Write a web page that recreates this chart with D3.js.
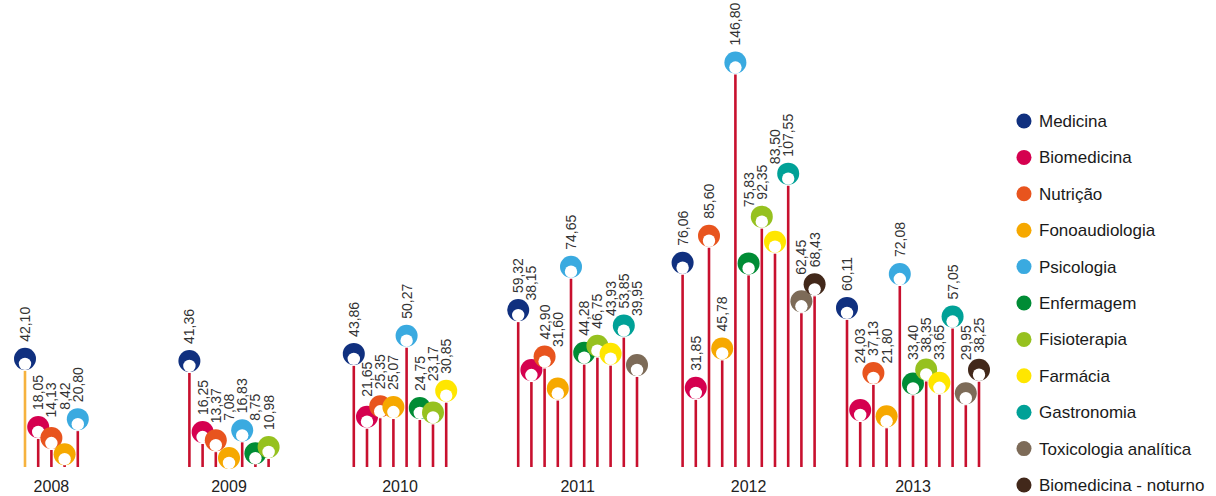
<!DOCTYPE html>
<html>
<head>
<meta charset="utf-8">
<script src="https://cdn.jsdelivr.net/npm/d3@7"></script>
<style>
  body { margin: 0; background: #fff; }
  svg { display: block; }
  text { font-family: "Liberation Sans", Arial, sans-serif; }
</style>
</head>
<body>
<svg></svg>
<script>
(function (d3) {
  'use strict';

  // cursos (ordem da legenda)
  var categories = ["Medicina", "Biomedicina", "Nutrição", "Fonoaudiologia", "Psicologia",
    "Enfermagem", "Fisioterapia", "Farmácia", "Gastronomia", "Toxicologia analítica",
    "Biomedicina - noturno"];
  var colors = ["#10307f", "#d5004f", "#e8541e", "#f6a800", "#3aaae0",
    "#008c35", "#96c11f", "#ffe600", "#00a197", "#7d6b58", "#42281a"];
  var years = ["2008", "2009", "2010", "2011", "2012", "2013"];

  // valores por ano, na ordem dos cursos
  var v2008 = [42.10, 18.05, 14.13, 8.42, 20.80];
  var v2009 = [41.36, 16.25, 13.37, 7.08, 16.83, 8.75, 10.98];
  var v2010 = [43.86, 21.65, 25.35, 25.07, 50.27, 24.75, 23.17, 30.85];
  var v2011 = [59.32, 38.15, 42.90, 31.60, 74.65, 44.28, 46.75, 43.93, 53.85, 39.95];
  var v2012 = [76.06, 31.85, 85.60, 45.78, 146.80, 75.83, 92.35, 83.50, 107.55, 62.45, 68.43];
  var v2013 = [60.11, 24.03, 37.13, 21.80, 72.08, 33.40, 38.35, 33.65, 57.05, 29.95, 38.25];
  var valuesByYear = [v2008, v2009, v2010, v2011, v2012, v2013];

  var width = 1216, height = 496,
    baseY = 467, r = 11, step = 13.2;

  var svg = d3.select("svg").attr("width", width).attr("height", height);

  var x = d3.scaleBand().domain(years).range([25, 25 + 6 * 164.4]).padding(0).align(0);
  var y = d3.scaleLinear().domain([0, 150]).range([baseY, baseY - 150 * 2.83]);
  var fmt = function (v) { return d3.format(".2f")(v).replace(".", ","); };

  years.forEach(function (yr, yi) {
    var vals = valuesByYear[yi];
    var g = svg.append("g");
    var items = vals.map(function (v, i) {
      return { v: v, i: i, x: x(yr) + i * step, cy: y(v) + r };
    });

    // hastes
    g.selectAll("line").data(items).enter().append("line")
      .attr("x1", function (d) { return d.x; })
      .attr("x2", function (d) { return d.x; })
      .attr("y1", function (d) { return Math.min(d.cy + r + 1, baseY - 3); })
      .attr("y2", baseY)
      .attr("stroke", function (d) { return (yr === "2008" && d.i === 0) ? "#f6b23e" : "#c8102e"; })
      .attr("stroke-width", 2.6);

    // marcadores
    var pin = g.selectAll("g.pin").data(items).enter().append("g")
      .attr("class", "pin")
      .attr("transform", function (d) { return "translate(" + d.x + "," + d.cy + ")"; });
    pin.append("circle").attr("r", r).attr("fill", function (d) { return colors[d.i]; });
    pin.append("circle").attr("r", 6.2).attr("cy", 5).attr("fill", "#fff");

    // rótulos girados
    var labels = g.selectAll("text.val").data(items).enter().append("text")
      .attr("class", "val")
      .attr("font-size", 14)
      .attr("fill", "#333")
      .text(function (d) { return fmt(d.v); });
    labels.each(function (d) { d.len = this.getComputedTextLength(); d.b = d.cy - r - 6; });

    // empurra o rótulo para cima quando bate num marcador vizinho
    for (var k = 0; k < 12; k++) {
      items.forEach(function (d) {
        [d.i - 1, d.i + 1].forEach(function (j) {
          var n = items[j];
          if (!n) return;
          var lo = n.cy - 7.5, hi = n.cy + 5;
          if (d.b > lo && d.b - d.len < hi) d.b = Math.min(d.b, lo - 2);
        });
      });
    }

    labels.attr("transform", function (d) {
      return "translate(" + (d.x + 5) + "," + d.b + ") rotate(-90)";
    });

    g.append("text")
      .attr("x", x(yr) + (vals.length - 1) * step / 2)
      .attr("y", 492)
      .attr("text-anchor", "middle")
      .attr("font-size", 16)
      .attr("fill", "#222")
      .text(yr);
  });

  // legenda
  var leg = svg.append("g").selectAll("g").data(categories).enter().append("g")
    .attr("transform", function (d, i) { return "translate(1024," + (121 + i * 36.4) + ")"; });
  leg.append("circle").attr("r", 7.5).attr("fill", function (d, i) { return colors[i]; });
  leg.append("text").attr("x", 15).attr("dy", "0.35em")
    .attr("font-size", 17).attr("fill", "#1a1a1a")
    .text(function (d) { return d; });
}(d3));
</script>
</body>
</html>
